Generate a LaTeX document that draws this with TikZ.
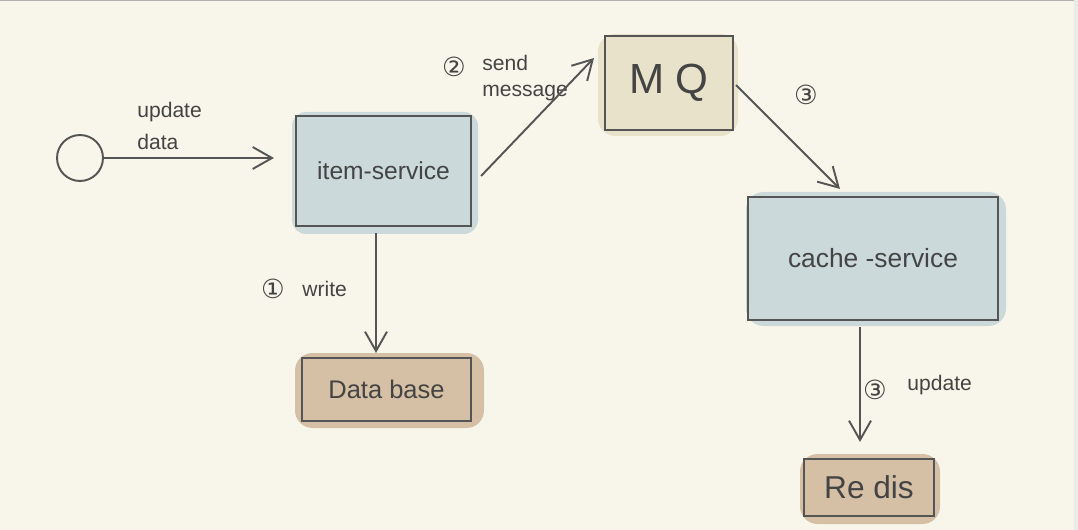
\documentclass[tikz,border=0pt]{standalone}
\usepackage{fontspec}
\setmainfont{Liberation Sans}
\newfontfamily\symfont{DejaVu Sans}
\usetikzlibrary{arrows.meta,calc}
\definecolor{bgcol}{HTML}{F8F6EA}
\definecolor{bluecol}{HTML}{CBD9DA}
\definecolor{mqcol}{HTML}{E9E2CB}
\definecolor{browncol}{HTML}{D5BFA5}
\definecolor{linecol}{HTML}{555555}
\definecolor{txtcol}{HTML}{444444}
\tikzset{
  boxnode/.style={draw=linecol, line width=1.2pt, inner sep=0pt, text=txtcol},
  arr/.style={draw=linecol, line width=1.1pt, -{Straight Barb[length=11pt,width=12.5pt,line width=1.1pt]}},
  lbl/.style={text=txtcol, font=\fontsize{12}{15}\selectfont, inner sep=0pt},
  num/.style={text=txtcol, font=\symfont\fontsize{15}{17}\selectfont, inner sep=0pt},
}
\begin{document}
\begin{tikzpicture}[x=0.02cm,y=-0.02cm]
\fill[bgcol] (0,0) rectangle (1078,530);
\useasboundingbox (0,0) rectangle (1078,530);
\fill[black!30] (0,0) rectangle (1078,1.5);
\fill[black!8] (1074,0) rectangle (1078,530);

% blobs
\fill[bluecol, rounded corners=8] (292,112) rectangle (478,234);
\fill[mqcol, rounded corners=10] (598,34) rectangle (738,136);
\fill[bluecol, rounded corners=10] (746,192) rectangle (1006,326);
\fill[browncol, rounded corners=10] (295,353) rectangle (484,428);
\fill[browncol, rounded corners=10] (800,454) rectangle (940,524);

% nodes
\node[circle, draw=linecol, line width=1.1pt, minimum size=0.92cm, inner sep=0pt] (c) at (80,158) {};
\node[boxnode, fill=bluecol, minimum width=3.5cm, minimum height=2.2cm, font=\fontsize{14}{16}\selectfont] (item) at (383.5,171) {item-service};
\node[boxnode, fill=mqcol, minimum width=2.56cm, minimum height=1.88cm, font=\fontsize{24}{28}\selectfont] (mq) at (669,83) {M Q};
\node[boxnode, fill=bluecol, minimum width=5cm, minimum height=2.46cm, font=\fontsize{15}{18}\selectfont] (cache) at (873,258.5) {cache -service};
\node[boxnode, fill=browncol, minimum width=3.38cm, minimum height=1.26cm, font=\fontsize{14.5}{18}\selectfont] (db) at (386.5,389.5) {Data base};
\node[boxnode, fill=browncol, minimum width=2.6cm, minimum height=1.14cm, font=\fontsize{18}{20}\selectfont] (redis) at (869,487.5) {Re dis};

% labels
\node[lbl, anchor=west, align=left] (l1) at (137,126) {update\\[3pt]data};
\node[num] (n2) at (454,67) {②};
\node[lbl, anchor=west, align=left] (l2) at (482,78) {send\\message};
\node[num] (n3a) at (806,95) {③};
\node[num] (n1) at (273,289) {①};
\node[lbl, anchor=west] (l3) at (302,289) {write};
\node[num] (n3b) at (875,390) {③};
\node[lbl, anchor=west] (l4) at (907,385) {update};

% connectors
\draw[arr, shorten >=21*0.02cm] (c) -- (c -| item.west);
\draw[arr] ($(item.east)+(9,5)$) -- ($(mq.west)+(-10,-25)$);
\draw[arr] ($(mq.east)+(2,2)$) -- ($(cache.north)+(-33,-7)$);
\draw[arr] ($(item.south)+(-7.5,6)$) -- ($(db.north)+(-10.5,-4)$);
\draw[arr] ($(cache.south)+(-13,6)$) -- ($(redis.north)+(-9,-16)$);
\end{tikzpicture}
\end{document}
